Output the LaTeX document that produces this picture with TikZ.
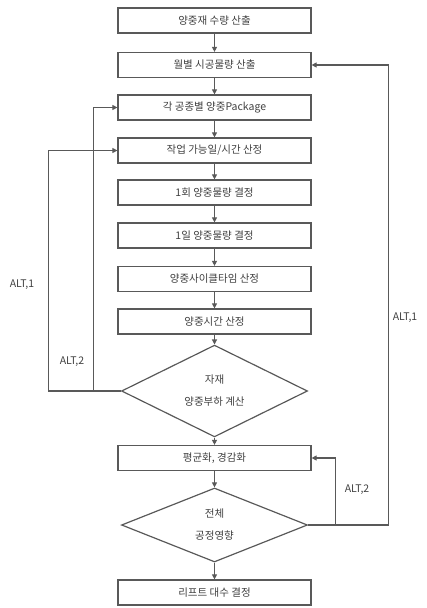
\documentclass[tikz,border=0pt]{standalone}
\usepackage{fontspec}
\newfontfamily\kr{Noto Sans CJK KR}
\usetikzlibrary{shapes.geometric,arrows.meta}

\begin{document}
\begin{tikzpicture}[x=1pt,y=-1pt,
        font=\kr\fontsize{10.5}{13}\selectfont, text=black!75,
        box/.style={draw=black!65, line width=1.2pt, minimum width=193pt, minimum height=25pt, inner sep=0pt},
        decide/.style={draw=black!65, line width=1.2pt, diamond, minimum width=186pt, minimum height=74pt, inner sep=0pt, align=center},
        arr/.style={draw=black!65, line width=1.1pt, -{Triangle[length=5pt,width=5pt]}}]
        \useasboundingbox (0,0) rectangle (427,608);
        % Below nodes are the steps.
            \node[box] (b1) at (214.5, 20.5) {양중재 수량 산출};
            \node[box] (b2) at (214.5, 65) {월별 시공물량 산출};
            \node[box] (b3) at (214.5, 107.5) {각 공종별 양중Package};
            \node[box] (b4) at (214.5, 150.5) {작업 가능일/시간 산정};
            \node[box] (b5) at (214.5, 192.5) {1회 양중물량 결정};
            \node[box] (b6) at (214.5, 235.5) {1일 양중물량 결정};
            \node[box] (b7) at (214.5, 279) {양중사이클타임 산정};
            \node[box] (b8) at (214.5, 321.5) {양중시간 산정};
            \node[decide] (d1) at (214.5, 391) {자재\\[9pt]양중부하 계산};
            \node[box] (b9) at (214.5, 458) {평균화, 경감화};
            \node[decide] (d2) at (214.5, 525) {전체\\[9pt]공정영향};
            \node[box] (b10) at (214.5, 592.5) {리프트 대수 결정};
        % This draws the main flow.
            \foreach \a/\b in {b1/b2, b2/b3, b3/b4, b4/b5, b5/b6, b6/b7, b7/b8, b8/d1, d1/b9, b9/d2, d2/b10}
                \draw[arr] (\a) -- (\b);
        % This draws the feedback loops.
            \draw[arr] (d1.west) -- ++(-72,0) |- (b4);
            \draw[arr] (d1.west) -- ++(-27,0) |- (b3);
            \draw[arr] (d2.east) -- ++(80,0) |- (b2);
            \draw[arr] (d2.east) -- ++(27,0) |- (b9);
        % Below nodes are the labels.
            \node (l1) at (22, 285) {ALT,1};
            \node (l2) at (72, 362) {ALT,2};
            \node (l3) at (357, 490) {ALT,2};
            \node (l4) at (405, 318) {ALT,1};
    \end{tikzpicture}
\end{document}
